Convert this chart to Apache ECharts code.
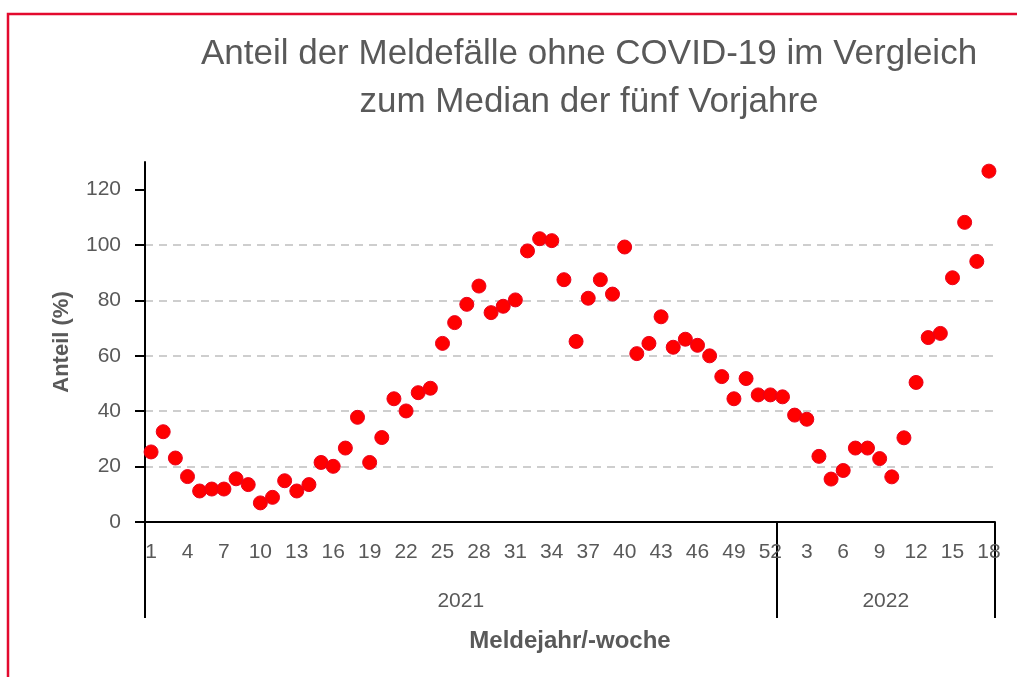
<!DOCTYPE html>
<html>
<head>
<meta charset="utf-8">
<title>Anteil der Meldefälle ohne COVID-19</title>
<script src="https://cdn.jsdelivr.net/npm/echarts@6/dist/echarts.min.js"></script>
<style>
  html, body { margin: 0; padding: 0; background: #fff; }
  #chart { width: 1017px; height: 677px; }
</style>
</head>
<body>
<div id="chart"></div>
<script>
  // Meldewochen je Jahr
  var years = ['2021', '2022'];
  var weeks2021 = [1, 2, 3, 4, 5, 6, 7, 8, 9, 10, 11, 12, 13, 14, 15, 16, 17, 18, 19, 20,
    21, 22, 23, 24, 25, 26, 27, 28, 29, 30, 31, 32, 33, 34, 35, 36, 37, 38, 39, 40,
    41, 42, 43, 44, 45, 46, 47, 48, 49, 50, 51, 52];
  var weeks2022 = [1, 2, 3, 4, 5, 6, 7, 8, 9, 10, 11, 12, 13, 14, 15, 16, 17, 18];

  // Anteil (%) im Vergleich zum Median der fünf Vorjahre
  var share2021 = [25.3, 32.6, 23.1, 16.4, 11.2, 11.9, 11.9, 15.6, 13.5, 6.9,
    8.9, 14.9, 11.2, 13.5, 21.5, 20.1, 26.7, 37.8, 21.5, 30.5,
    44.5, 40.1, 46.7, 48.3, 64.5, 72.0, 78.6, 85.2, 75.6, 77.9,
    80.2, 97.9, 102.3, 101.6, 87.5, 65.2, 80.8, 87.5, 82.3, 99.3,
    60.8, 64.5, 74.1, 63.1, 66.0, 63.8, 60.0, 52.5, 44.5, 51.8,
    45.9, 45.9];
  var share2022 = [45.2, 38.6, 37.1, 23.7, 15.5, 18.6, 26.7, 26.7, 22.9, 16.3,
    30.4, 50.4, 66.6, 68.1, 88.2, 108.2, 94.1, 126.7];

  var yTicks = [0, 20, 40, 60, 80, 100, 120];

  // Kategorien aufbauen
  var categories = [];
  var values = [];
  var yearStart = [];
  var yearMid = [];
  [[weeks2021, share2021], [weeks2022, share2022]].forEach(function (pair, y) {
    yearStart.push(categories.length);
    yearMid.push(categories.length + Math.floor(pair[0].length / 2));
    pair[0].forEach(function (w, i) {
      categories.push(years[y] + '-' + w);
      values.push(pair[1][i]);
    });
  });

  var grey = '#595959';
  var font = 'Liberation Sans, Arial, sans-serif';

  var chart = echarts.init(document.getElementById('chart'));
  chart.setOption({
    animation: false,
    title: {
      text: 'Anteil der Meldefälle ohne COVID-19 im Vergleich\nzum Median der fünf Vorjahre',
      left: 584,
      top: 25,
      textAlign: 'center',
      textStyle: {
        color: grey,
        fontFamily: font,
        fontSize: 35,
        fontWeight: 'normal',
        lineHeight: 48
      }
    },
    graphic: [{
      type: 'rect',
      shape: { x: 8, y: 14, width: 1100, height: 800 },
      style: { fill: 'none', stroke: '#e30a2e', lineWidth: 2.5 },
      silent: true
    }],
    grid: {
      left: 145,
      right: 22,
      top: 162,
      bottom: 155,
      outerBoundsMode: 'none'
    },
    xAxis: [{
      type: 'category',
      data: categories,
      boundaryGap: true,
      axisLine: { lineStyle: { color: '#000', width: 2 } },
      axisTick: { show: false },
      axisLabel: {
        interval: 2,
        margin: 20,
        color: grey,
        fontFamily: font,
        fontSize: 21,
        formatter: function (v) { return v.split('-')[1]; }
      }
    }, {
      type: 'category',
      data: categories,
      position: 'bottom',
      boundaryGap: true,
      axisLine: { show: false },
      axisTick: {
        show: true,
        length: 96,
        interval: function (i) { return yearStart.indexOf(i) >= 0; },
        lineStyle: { color: '#000', width: 2 }
      },
      axisLabel: {
        interval: function (i) { return yearMid.indexOf(i) >= 0; },
        margin: 69,
        color: grey,
        fontFamily: font,
        fontSize: 21,
        padding: [0, 12, 0, 0],
        formatter: function (v) { return v.split('-')[0]; }
      },
      name: 'Meldejahr/-woche',
      nameLocation: 'middle',
      nameGap: 107,
      nameTextStyle: {
        color: grey,
        fontFamily: font,
        fontSize: 24,
        fontWeight: 'bold'
      }
    }],
    yAxis: {
      type: 'value',
      min: 0,
      max: 130,
      interval: 20,
      name: 'Anteil (%)',
      nameLocation: 'middle',
      nameGap: 72,
      nameTextStyle: {
        color: grey,
        fontFamily: font,
        fontSize: 22,
        fontWeight: 'bold'
      },
      axisLine: { show: true, lineStyle: { color: '#000', width: 2 } },
      axisTick: {
        show: true,
        length: 10,
        customValues: yTicks,
        lineStyle: { color: '#000', width: 2 }
      },
      axisLabel: {
        customValues: yTicks,
        margin: 24,
        color: grey,
        fontFamily: font,
        fontSize: 21
      },
      splitLine: {
        show: true,
        showMinLine: false,
        showMaxLine: false,
        lineStyle: { color: '#bfbfbf', width: 1.5, type: [8, 6] }
      }
    },
    series: [{
      type: 'scatter',
      xAxisIndex: 0,
      data: values,
      symbol: 'circle',
      symbolSize: 14,
      clip: false,
      itemStyle: {
        color: '#ff0000',
        borderColor: '#e8001c',
        borderWidth: 1,
        opacity: 1
      }
    }]
  });
</script>
</body>
</html>
